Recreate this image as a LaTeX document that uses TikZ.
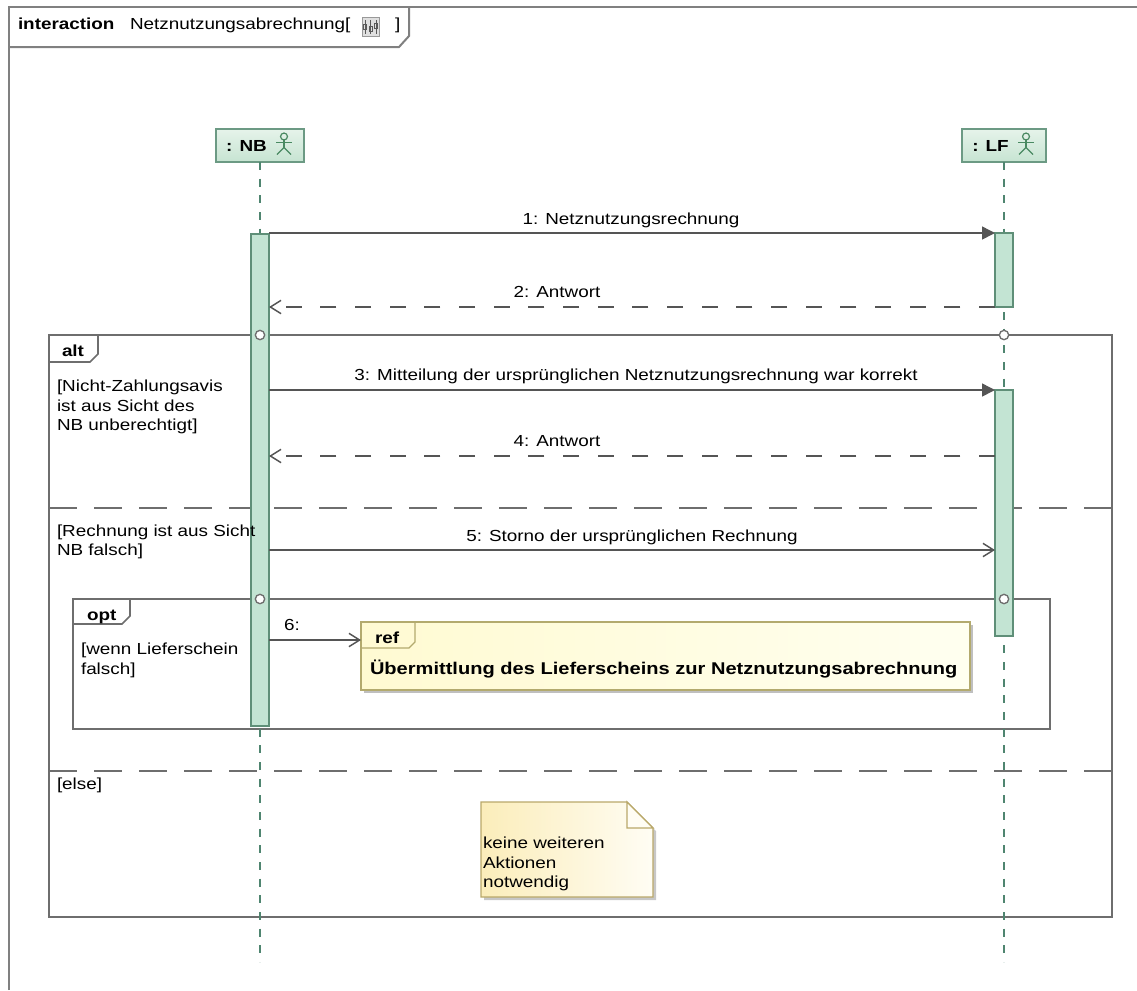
\documentclass[tikz,border=0pt]{standalone}
\usepackage{fontspec}
\setmainfont{Liberation Sans}[FakeStretch=1.18]
\usetikzlibrary{arrows.meta,shadows}
\definecolor{framegray}{HTML}{6E6E6E}
\definecolor{outergray}{HTML}{808080}
\definecolor{llgreen}{HTML}{4F8570}
\definecolor{headtop}{HTML}{E6F3EA}
\definecolor{headbot}{HTML}{C6E4D2}
\definecolor{headborder}{HTML}{6C9A84}
\definecolor{barfill}{HTML}{C3E4D3}
\definecolor{barborder}{HTML}{5F8F78}
\definecolor{msggray}{HTML}{555555}
\definecolor{refleft}{HTML}{FFFAD2}
\definecolor{refright}{HTML}{FFFFF0}
\definecolor{refborder}{HTML}{B3AA6E}
\definecolor{noteleft}{HTML}{FBEDBA}
\definecolor{noteright}{HTML}{FFFDF4}
\definecolor{noteborder}{HTML}{B9A86A}
\definecolor{actorcol}{HTML}{4A8A62}
\newcommand\dfont{\fontsize{12pt}{15pt}\selectfont}
\newcommand\rfont{\fontsize{12.75pt}{15pt}\selectfont}
\begin{document}
\begin{tikzpicture}[x=0.75pt,y=-0.75pt,
  every node/.style={font=\dfont, inner sep=0pt, outer sep=0pt},
  outerframe/.style={draw=outergray, line width=1.5pt},
  framestyle/.style={draw=framegray, line width=1.2pt},
  sepstyle/.style={draw=framegray, line width=1.2pt, dash pattern=on 21pt off 12.75pt},
  head/.style={draw=headborder, line width=0.8pt, top color=headtop, bottom color=headbot,
     font=\dfont\bfseries, minimum height=24.75pt},
  lifeline/.style={draw=llgreen, line width=1.1pt, dash pattern=on 6pt off 6.5pt},
  actbar/.style={draw=barborder, fill=barfill, line width=0.8pt, minimum width=13.5pt},
  fcircle/.style={circle, draw=framegray, fill=white, line width=1pt, minimum size=7pt},
  msg/.style={draw=msggray, line width=1.1pt},
  syncmsg/.style={msg, -{Triangle[length=9.75pt,width=9.75pt]}},
  asyncmsg/.style={msg, -{Straight Barb[length=8pt,width=10pt,line width=1.1pt]}},
  replymsg/.style={msg, dash pattern=on 12pt off 14pt, -{Straight Barb[length=8pt,width=10pt,line width=1.1pt]}},
  lbl/.style={anchor=base},
  guard/.style={anchor=base west},
  tablbl/.style={anchor=base west, font=\dfont\bfseries},
  refbox/.style={draw=refborder, line width=1pt, left color=refleft, right color=refright,
     drop shadow={shadow xshift=2.5pt, shadow yshift=-2.5pt, fill=black, opacity=0.25}},
  actor/.pic={
     \draw[actorcol, line width=0.9pt] (0,-9) circle[radius=2.6pt];
     \draw[actorcol, line width=0.9pt] (0,-5.5) -- (0,2);
     \draw[actorcol, line width=0.9pt] (-8,-3) -- (8,-3);
     \draw[actorcol, line width=0.9pt] (-7,9) -- (0,2) -- (7,9);
  }
]
\useasboundingbox (0,0) rectangle (1137,990);
\fill[white] (0,0) rectangle (1137,990);

% outer frame and header
\draw[outerframe] (9,990) -- (9,7) -- (1137,7);
\draw[outerframe] (9,47) -- (399,47) -- (409,36) -- (409,7);
\node[tablbl] (hdrkw) at (18,29) {interaction};
\node[anchor=base west] (hdrname) at (130,29) {Netznutzungsabrechnung[};
\node[draw=gray!80, fill=gray!25, line width=0.6pt, minimum width=12.75pt, minimum height=14.25pt] (hdricon) at (370.5,27) {};
\draw[gray!70!black, line width=0.6pt] (365,20) -- (365,34) (370.5,20) -- (370.5,34) (376,20) -- (376,34);
\draw[gray!70!black, line width=0.6pt] (363.5,24) rectangle (366.5,29) (369,26) rectangle (372,31) (374.5,23) rectangle (377.5,28);
\node[anchor=base west] (hdrclose) at (395,29) {]};

% combined fragments
\draw[framestyle] (49,335) rectangle (1112,917);
\draw[framestyle] (49,362) -- (90,362) -- (98,354) -- (98,335);
\draw[sepstyle] (49,508) -- (1112,508);
\draw[sepstyle] (49,771) -- (1112,771);
\draw[framestyle] (73,599) rectangle (1050,729);
\draw[framestyle] (73,624) -- (122,624) -- (130,616) -- (130,599);

% lifelines
\node[head, minimum width=66pt, anchor=north] (nb) at (260,129) {: NB\hspace*{20.25pt}};
\node[head, minimum width=63pt, anchor=north] (lf) at (1004,129) {: LF\hspace*{20.25pt}};
\pic at ([xshift=-15pt]nb.east) {actor};
\pic at ([xshift=-15pt]lf.east) {actor};
\coordinate (nbend) at (260,962);
\coordinate (lfend) at (1004,962);
\draw[lifeline] (nb.south) -- (nbend);
\draw[lifeline] (lf.south) -- (lfend);

% activation bars
\node[actbar, minimum height=369pt, anchor=north] (nbact) at (260,234) {};
\node[actbar, minimum height=55.5pt, anchor=north] (lfact1) at (1004,233) {};
\node[actbar, minimum height=184.5pt, anchor=north] (lfact2) at (1004,390) {};

% fragment circles
\node[fcircle] (c1) at (260,335) {};
\node[fcircle] (c2) at (1004,335) {};
\node[fcircle] (c3) at (260,599) {};
\node[fcircle] (c4) at (1004,599) {};

% ref box
\node[refbox, anchor=north west, minimum width=456.75pt, minimum height=51pt] (ref) at (361,622) {};
\draw[draw=refborder, line width=1pt] (361,648) -- (409,648) -- (415,642) -- (415,622);
\node[tablbl] (reflbl) at (375,643) {ref};
\node[anchor=base west, font=\rfont\bfseries] (reftext) at (370,674) {Übermittlung des Lieferscheins zur Netznutzungsabrechnung};

% messages
\coordinate (m4y) at (0,456);
\coordinate (m5y) at (0,550);
\coordinate (m6y) at (0,640);
\draw[syncmsg] (nbact.east |- lfact1.north west) -- (lfact1.north west);
\draw[replymsg] (lfact1.south west) -- (nbact.east |- lfact1.south west);
\draw[syncmsg] (nbact.east |- lfact2.north west) -- (lfact2.north west);
\draw[replymsg] (lfact2.west |- m4y) -- (nbact.east |- m4y);
\draw[asyncmsg] (nbact.east |- m5y) -- (lfact2.west |- m5y);
\draw[asyncmsg] (nbact.east |- m6y) -- (ref.west |- m6y);

\node[lbl] (l1) at (631,224) {1: Netznutzungsrechnung};
\node[lbl] (l2) at (557,297) {2: Antwort};
\node[lbl] (l3) at (636,380) {3: Mitteilung der ursprünglichen Netznutzungsrechnung war korrekt};
\node[lbl] (l4) at (557,446) {4: Antwort};
\node[lbl] (l5) at (632,541) {5: Storno der ursprünglichen Rechnung};
\node[guard] (l6) at (284,630) {6:};

% fragment labels and guards
\node[tablbl] (altlbl) at (62,356) {alt};
\node[tablbl] (optlbl) at (87,620) {opt};
\node[guard] (g1a) at (57,391) {[Nicht-Zahlungsavis};
\node[guard] (g1b) at (57,411) {ist aus Sicht des};
\node[guard] (g1c) at (57,430) {NB unberechtigt]};
\node[guard] (g2a) at (57,536) {[Rechnung ist aus Sicht};
\node[guard] (g2b) at (57,555) {NB falsch]};
\node[guard] (g3a) at (81,654) {[wenn Lieferschein};
\node[guard] (g3b) at (81,674) {falsch]};
\node[guard] (g4) at (57,789) {[else]};

% note
\fill[black, opacity=0.22] (484,805) -- (630,805) -- (656,831) -- (656,900) -- (484,900) -- cycle;
\path[left color=noteleft, right color=noteright] (481,802) -- (627,802) -- (653,828) -- (653,897) -- (481,897) -- cycle;
\draw[draw=noteborder, line width=1pt] (481,802) -- (627,802) -- (653,828) -- (653,897) -- (481,897) -- cycle;
\draw[draw=noteborder, line width=1pt, fill=noteright] (627,802) -- (627,828) -- (653,828) -- cycle;
\node[guard] (n1) at (483,848) {keine weiteren};
\node[guard] (n2) at (483,868) {Aktionen};
\node[guard] (n3) at (483,887) {notwendig};
\end{tikzpicture}
\end{document}
